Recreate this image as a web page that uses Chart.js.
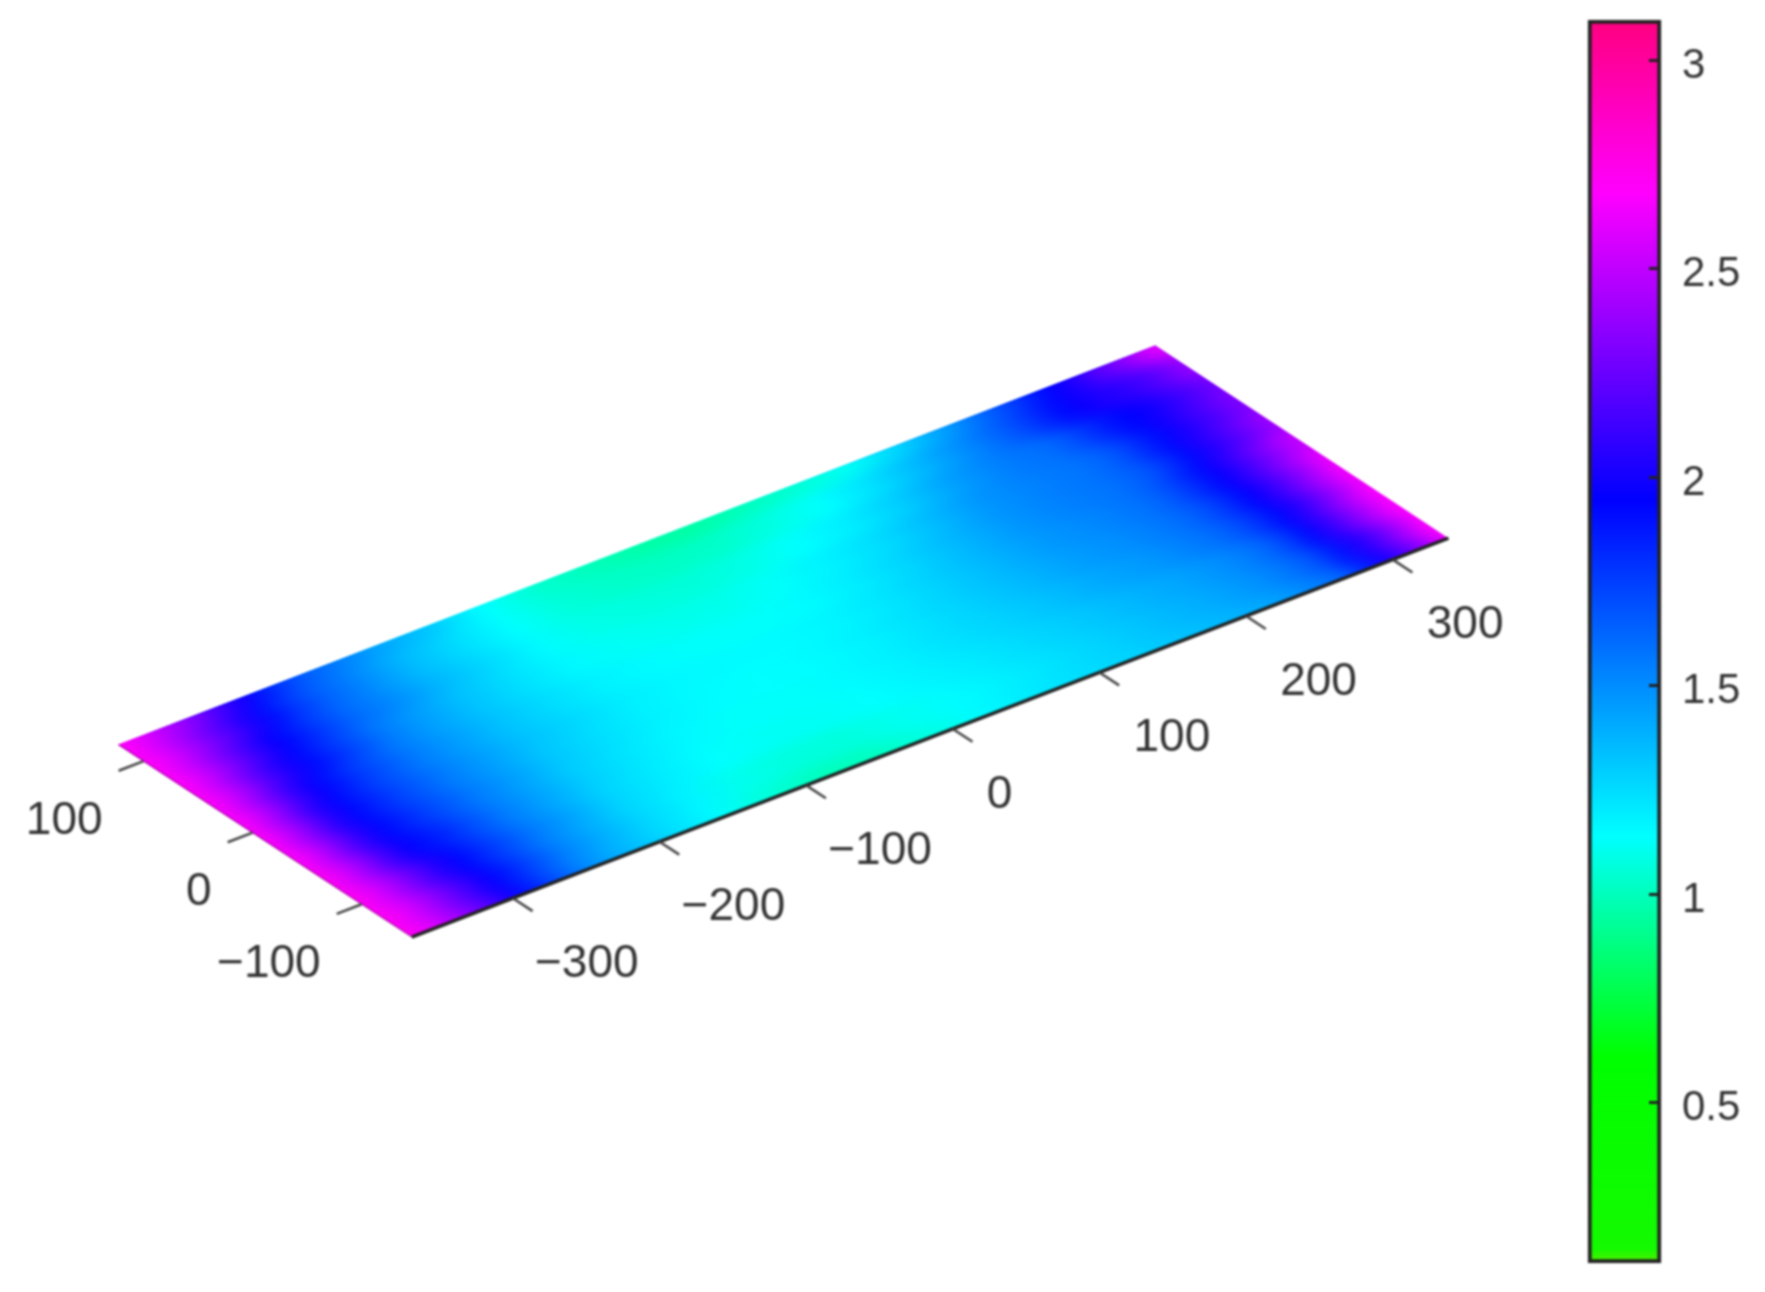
<!DOCTYPE html>
<html>
<head>
<meta charset="utf-8">
<script src="https://cdn.jsdelivr.net/npm/chart.js@4"></script>
<style>
  html, body { margin: 0; background: #fff; }
  canvas { position: absolute; top: 0; filter: blur(0.8px); }
  #surface { left: 0; }
  #colorbar { left: 1560px; }
</style>
</head>
<body>
<canvas id="surface" width="1560" height="1292"></canvas>
<canvas id="colorbar" width="205" height="1292"></canvas>
<script>
// ── Data ──
const xTicks = [-300, -200, -100, 0, 100, 200, 300];
const yTicks = [-100, 0, 100];
const colorbarTicks = [0.5, 1, 1.5, 2, 2.5, 3];
const colorRange = [0.116, 3.096];

const columnX = [-369, -355, -341, -327, -312, -298, -284, -270, -249, -228, -192, -157, -122, -86, -51, -15,
  20, 55, 91, 126, 161, 197, 225, 239, 253, 267, 281, 296, 310, 324, 338];
const rowY = [-146, -119, -92, -65, -38, -11, 15, 42, 69, 96, 123];

const row0 = [2.72, 2.60, 2.46, 2.31, 2.15, 1.98, 1.84, 1.70, 1.52, 1.40, 1.26, 1.15, 1.06, 1.00, 1.01, 1.08, 1.15, 1.20, 1.24, 1.28, 1.33, 1.38, 1.44, 1.49, 1.55, 1.62, 1.82, 2.00, 2.18, 2.40, 2.66];
const row1 = [2.72, 2.59, 2.44, 2.28, 2.11, 1.96, 1.84, 1.72, 1.55, 1.43, 1.27, 1.17, 1.10, 1.07, 1.07, 1.11, 1.15, 1.19, 1.24, 1.29, 1.35, 1.41, 1.48, 1.53, 1.60, 1.70, 1.88, 2.04, 2.22, 2.44, 2.68];
const row2 = [2.72, 2.57, 2.40, 2.22, 2.04, 1.93, 1.82, 1.72, 1.57, 1.46, 1.28, 1.20, 1.14, 1.12, 1.12, 1.14, 1.17, 1.21, 1.26, 1.31, 1.37, 1.43, 1.50, 1.55, 1.62, 1.75, 1.92, 2.10, 2.30, 2.50, 2.68];
const row3 = [2.72, 2.54, 2.34, 2.13, 1.96, 1.88, 1.80, 1.70, 1.56, 1.46, 1.30, 1.22, 1.16, 1.13, 1.13, 1.15, 1.18, 1.23, 1.28, 1.34, 1.41, 1.47, 1.55, 1.60, 1.68, 1.79, 1.93, 2.08, 2.27, 2.46, 2.66];
const row4 = [2.70, 2.52, 2.30, 2.09, 1.93, 1.85, 1.76, 1.68, 1.56, 1.47, 1.32, 1.24, 1.18, 1.15, 1.14, 1.15, 1.18, 1.23, 1.29, 1.36, 1.44, 1.50, 1.57, 1.62, 1.70, 1.82, 1.95, 2.10, 2.27, 2.45, 2.64];
const row5 = [2.70, 2.50, 2.29, 2.07, 1.93, 1.84, 1.75, 1.67, 1.56, 1.47, 1.34, 1.26, 1.19, 1.16, 1.15, 1.15, 1.17, 1.22, 1.29, 1.37, 1.46, 1.52, 1.58, 1.63, 1.72, 1.84, 1.96, 2.10, 2.25, 2.40, 2.52];
const row6 = [2.70, 2.52, 2.32, 2.11, 1.96, 1.86, 1.76, 1.68, 1.56, 1.47, 1.34, 1.25, 1.18, 1.15, 1.13, 1.13, 1.15, 1.20, 1.28, 1.37, 1.47, 1.54, 1.58, 1.62, 1.68, 1.80, 1.92, 2.05, 2.16, 2.28, 2.40];
const row7 = [2.70, 2.54, 2.36, 2.17, 2.02, 1.92, 1.82, 1.72, 1.57, 1.47, 1.34, 1.24, 1.16, 1.12, 1.10, 1.10, 1.13, 1.18, 1.25, 1.35, 1.47, 1.54, 1.58, 1.62, 1.70, 1.82, 1.92, 2.02, 2.12, 2.22, 2.32];
const row8 = [2.70, 2.56, 2.40, 2.24, 2.07, 1.95, 1.85, 1.75, 1.61, 1.53, 1.37, 1.26, 1.15, 1.09, 1.07, 1.06, 1.09, 1.14, 1.20, 1.30, 1.44, 1.55, 1.60, 1.68, 1.78, 1.88, 1.94, 2.00, 2.09, 2.18, 2.28];
const row9 = [2.70, 2.58, 2.44, 2.30, 2.16, 2.02, 1.90, 1.78, 1.64, 1.54, 1.36, 1.25, 1.14, 1.06, 1.03, 1.02, 1.03, 1.08, 1.14, 1.24, 1.38, 1.54, 1.70, 1.80, 1.90, 1.97, 2.03, 2.08, 2.15, 2.25, 2.38];
const row10 = [2.70, 2.60, 2.48, 2.38, 2.24, 2.10, 1.98, 1.84, 1.68, 1.58, 1.42, 1.31, 1.14, 1.04, 1.00, 0.96, 0.95, 1.00, 1.05, 1.12, 1.28, 1.47, 1.66, 1.75, 1.86, 1.96, 2.05, 2.20, 2.30, 2.46, 2.62];
const surfaceRows = [row0, row1, row2, row3, row4, row5, row6, row7, row8, row9, row10];

// Colour scale
const cmapValues = [0.116, 0.15, 0.61, 1.14, 1.945, 2.68, 3.096];
const cmapColors = [[80, 240, 0], [20, 250, 0], [0, 255, 0], [0, 255, 255], [0, 0, 255], [255, 0, 255], [255, 0, 128]];

// ── Helpers ──
function valueColor(v) {
  let i = 0;
  while (i < cmapValues.length - 2 && v > cmapValues[i + 1]) i++;
  const t = Math.min(1, Math.max(0, (v - cmapValues[i]) / (cmapValues[i + 1] - cmapValues[i])));
  const c = cmapColors[i].map((a, k) => Math.round(a + (cmapColors[i + 1][k] - a) * t));
  return `rgb(${c[0]},${c[1]},${c[2]})`;
}

// oblique view of the plane: data (X, Y) to the scale values of the flat chart
const view = { x0: 793.7, y0: 624.4, xx: 1.4696, xy: -0.5658, yx: -1.0929, yy: -0.7175 };
function project(X, Y) {
  return { x: view.x0 + view.xx * X + view.yx * Y, y: view.y0 + view.xy * X + view.yy * Y };
}

const xMin = columnX[0], xMax = columnX[columnX.length - 1];
const yMin = rowY[0], yMax = rowY[rowY.length - 1];

// gradient running along X with its colour lines parallel to the Y edge
function rowGradient(context, values) {
  const chart = context.chart;
  const sx = chart.scales.x, sy = chart.scales.y;
  if (!sx || !sy || !chart.chartArea) return 'transparent';
  const a = project(xMin, yMin), b = project(xMax, yMin), s = project(xMin, yMax);
  const ax = sx.getPixelForValue(a.x), ay = sy.getPixelForValue(a.y);
  if (!Number.isFinite(ax) || !Number.isFinite(ay)) return 'transparent';
  const lx = sx.getPixelForValue(b.x) - ax, ly = sy.getPixelForValue(b.y) - ay;
  const ex = sx.getPixelForValue(s.x) - ax, ey = sy.getPixelForValue(s.y) - ay;
  const len = Math.hypot(ex, ey);
  const nx = ey / len, ny = -ex / len;
  const d = lx * nx + ly * ny;
  const g = chart.ctx.createLinearGradient(ax, ay, ax + nx * d, ay + ny * d);
  values.forEach((v, i) => g.addColorStop((columnX[i] - xMin) / (xMax - xMin), valueColor(v)));
  return g;
}

// ── Surface strips: each one paints from its row to the far edge, the next paints over it ──
const surfaceDatasets = surfaceRows.map((values, r) => {
  const from = r === 0 ? yMin - 30 : (rowY[r - 1] + rowY[r]) / 2;
  const to = yMax + 30;
  const left = xMin - 30, right = xMax + 30;
  return {
    data: [project(left, from), project(right, from), project(right, to), project(left, to), project(left, from)],
    showLine: true,
    fill: 'shape',
    backgroundColor: ctx => rowGradient(ctx, values),
    borderColor: 'transparent',
    borderWidth: 0,
    pointRadius: 0,
    clip: false,
    order: 100 - r,
    isLastStrip: r === surfaceRows.length - 1,
  };
});

// ── Axes of the plane ──
function segment(a, b, color, width, order) {
  return { data: [a, b], showLine: true, borderColor: color, borderWidth: width, pointRadius: 0, clip: false, order };
}
const axisDatasets = [
  segment(project(xMin, yMin), project(xMax, yMin), '#222', 3.5, 2),
  segment(project(xMin, yMin), project(xMin, yMax), 'rgba(40,0,40,0.3)', 1.5, 2),
  ...xTicks.map(t => segment(project(t, yMin), project(t, yMin - 18), '#444', 2.5, 1)),
  ...yTicks.map(t => segment(project(xMin, t), project(xMin - 17, t), '#444', 2.5, 1)),
];

// blur + clip for the strips so the rows melt together like the source raster
const surfacePaint = {
  id: 'surfacePaint',
  beforeDatasetsDraw(chart) {
    const { ctx, scales } = chart;
    const corners = [project(xMin, yMin), project(xMax, yMin), project(xMax, yMax), project(xMin, yMax)];
    ctx.save();
    ctx.beginPath();
    corners.forEach((p, i) => {
      const px = scales.x.getPixelForValue(p.x), py = scales.y.getPixelForValue(p.y);
      i ? ctx.lineTo(px, py) : ctx.moveTo(px, py);
    });
    ctx.closePath();
    ctx.clip();
    ctx.filter = 'blur(7px)';
  },
  afterDatasetDraw(chart, args) {
    if (chart.data.datasets[args.index].isLastStrip) chart.ctx.restore();
  },
};

const tickText = {
  id: 'tickText',
  afterDatasetsDraw(chart) {
    const { ctx, scales } = chart;
    ctx.save();
    ctx.font = '46px "Liberation Sans"';
    ctx.fillStyle = '#333';
    ctx.textBaseline = 'middle';
    ctx.textAlign = 'left';
    xTicks.forEach(t => {
      const p = project(t, yMin);
      const dx = t < 0 ? 22 : 34;
      ctx.fillText(String(t).replace('-', '\u2212'), scales.x.getPixelForValue(p.x) + dx, scales.y.getPixelForValue(p.y) + 66);
    });
    ctx.textAlign = 'right';
    yTicks.forEach(t => {
      const p = project(xMin, t);
      ctx.fillText(String(t).replace('-', '\u2212'), scales.x.getPixelForValue(p.x) - 41, scales.y.getPixelForValue(p.y) + 60);
    });
    ctx.restore();
  },
};

const surfaceChart = new Chart(document.getElementById('surface'), {
  type: 'scatter',
  data: { datasets: [...axisDatasets, ...surfaceDatasets] },
  options: {
    responsive: false,
    animation: false,
    layout: { padding: 0 },
    plugins: { legend: { display: false }, tooltip: { enabled: false } },
    scales: {
      x: { type: 'linear', min: 0, max: 1560, display: false },
      y: { type: 'linear', min: 0, max: 1292, reverse: true, display: false },
    },
  },
  plugins: [surfacePaint, tickText],
});
surfaceChart.update();

// ── Colour bar ──
const colorbarChart = new Chart(document.getElementById('colorbar'), {
  type: 'bar',
  data: {
    labels: [''],
    datasets: [{
      data: [colorRange],
      barPercentage: 1,
      categoryPercentage: 1,
      borderColor: '#222',
      borderWidth: 4,
      borderSkipped: false,
      clip: false,
      backgroundColor: ctx => {
        const s = ctx.chart.scales.y;
        if (!s || !ctx.chart.chartArea) return 'transparent';
        const y0 = s.getPixelForValue(colorRange[0]), y1 = s.getPixelForValue(colorRange[1]);
        if (!Number.isFinite(y0) || !Number.isFinite(y1)) return 'transparent';
        const g = ctx.chart.ctx.createLinearGradient(0, y0, 0, y1);
        cmapValues.forEach((v, i) => g.addColorStop((v - colorRange[0]) / (colorRange[1] - colorRange[0]), valueColor(v)));
        return g;
      },
    }],
  },
  options: {
    responsive: false,
    animation: false,
    layout: { padding: { left: 28, top: 20, bottom: 29, right: 0 } },
    plugins: { legend: { display: false }, tooltip: { enabled: false } },
    scales: {
      x: { display: false },
      y: {
        position: 'right',
        min: colorRange[0],
        max: colorRange[1],
        afterFit: s => { s.width = 104; s.paddingTop = 0; s.paddingBottom = 0; },
        afterBuildTicks: s => { s.ticks = colorbarTicks.map(value => ({ value })); },
        border: { display: false },
        grid: { drawOnChartArea: false, tickLength: -12, tickWidth: 3, tickColor: '#222', z: 1 },
        ticks: {
          padding: 33,
          labelOffset: 6,
          color: '#333',
          font: { family: '"Liberation Sans"', size: 42 },
          callback: v => String(v),
        },
      },
    },
  },
});
colorbarChart.update();
</script>
</body>
</html>
